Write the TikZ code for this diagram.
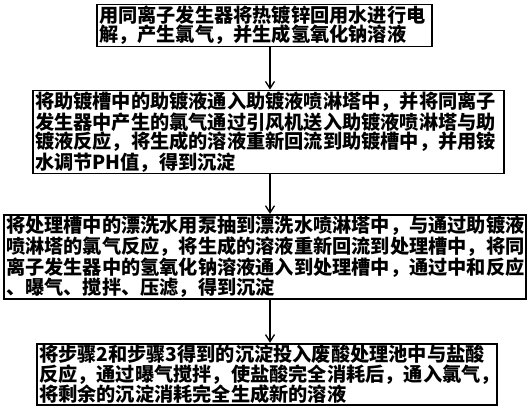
\documentclass[tikz,border=0pt]{standalone}
\usepackage{fontspec}
\setmainfont{Noto Sans CJK SC}
\usetikzlibrary{arrows.meta}
\tikzset{
  stepbox/.style={draw=black, line width=1.8pt, inner sep=1.5pt, align=left,
    font=\fontsize{19.2}{19.2}\selectfont\bfseries},
  flow/.style={draw=black, line width=1.4pt, -{Straight Barb[length=7pt,width=9pt,line width=1.3pt]}}
}
\begin{document}
\begin{tikzpicture}[x=1pt,y=-1pt]
\useasboundingbox (0,0) rectangle (530,409);
\node[stepbox, minimum width=335pt, minimum height=41pt, text width=331pt] (b1) at (264.5,25.5)
 {用同离子发生器将热镀锌回用水进行电\\解，产生氯气，并生成氢氧化钠溶液};
\node[stepbox, minimum width=471pt, minimum height=80pt, text width=467pt] (b2) at (268.5,132)
 {将助镀槽中的助镀液通入助镀液喷淋塔中，并将同离子\\发生器中产生的氯气通过引风机送入助镀液喷淋塔与助\\镀液反应，将生成的溶液重新回流到助镀槽中，并用铵\\水调节PH值，得到沉淀};
\node[stepbox, minimum width=522pt, minimum height=78pt, text width=518pt] (b3) at (265,257)
 {将处理槽中的漂洗水用泵抽到漂洗水喷淋塔中，与通过助镀液\\喷淋塔的氯气反应，将生成的溶液重新回流到处理槽中，将同\\离子发生器中的氢氧化钠溶液通入到处理槽中，通过中和反应\\、曝气、搅拌、压滤，得到沉淀};
\node[stepbox, minimum width=460pt, minimum height=61pt, text width=456pt] (b4) at (267,374.5)
 {将步骤2和步骤3得到的沉淀投入废酸处理池中与盐酸\\反应，通过曝气搅拌，使盐酸完全消耗后，通入氯气，\\将剩余的沉淀消耗完全生成新的溶液};
\draw[flow] (b1.south -| 270,0) -- (b2.north -| 270,0);
\draw[flow] (b2.south -| 270,0) -- (b3.north -| 270,0);
\draw[flow] (b3.south -| 270,0) -- (b4.north -| 270,0);
\end{tikzpicture}
\end{document}
